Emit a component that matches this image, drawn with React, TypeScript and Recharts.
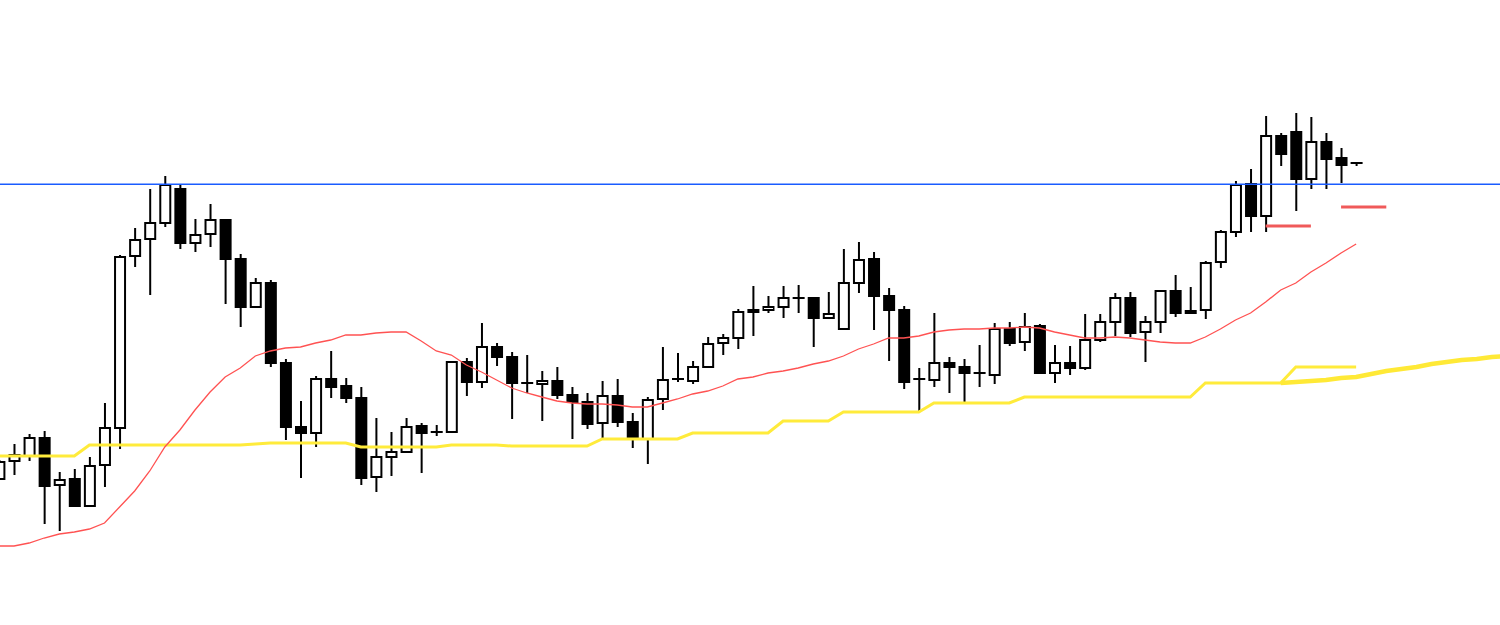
import React from 'react'
import { ComposedChart, Bar, Line, XAxis, YAxis, ReferenceLine } from 'recharts'

// candle prices (arbitrary price units)
const opens = [
  146, 164, 169, 187, 140, 146, 119, 160, 197, 369,
  386, 402, 436, 382, 391, 405, 366, 318, 342, 262,
  198, 192, 246, 239, 227, 148, 168, 173, 199, 193,
  193, 263, 243, 278, 268, 242, 241, 244, 230, 223,
  202, 229, 203, 186, 226, 246, 244, 258, 282, 287,
  315, 315, 318, 327, 327, 307, 296, 342, 366, 329,
  315, 246, 245, 262, 258, 252, 250, 296, 283, 299,
  252, 262, 257, 285, 303, 327, 293, 303, 334, 314,
  315, 363, 393, 441, 409, 489, 493, 446, 483, 467, 462,
]
const closes = [
  163, 170, 187, 139, 145, 119, 159, 197, 368, 385,
  402, 440, 382, 390, 405, 366, 318, 342, 262, 198,
  192, 246, 238, 227, 147, 168, 173, 198, 192, 193,
  263, 243, 278, 268, 242, 242, 244, 230, 223, 201,
  229, 203, 186, 225, 245, 246, 258, 281, 287, 313,
  313, 318, 327, 327, 307, 311, 342, 365, 329, 315,
  243, 246, 262, 258, 252, 252, 296, 282, 298, 252,
  262, 257, 285, 303, 327, 292, 303, 334, 312, 312,
  362, 393, 440, 409, 489, 471, 446, 483, 466, 460, 462,
]
const highs = [
  165, 181, 191, 194, 153, 156, 168, 222, 370, 397,
  436, 449, 440, 406, 421, 405, 371, 347, 345, 266,
  224, 249, 274, 247, 238, 207, 193, 207, 202, 200,
  264, 267, 302, 282, 273, 270, 254, 258, 238, 232,
  244, 246, 212, 228, 278, 272, 264, 288, 291, 316,
  339, 329, 339, 340, 328, 333, 376, 383, 373, 337,
  319, 257, 312, 268, 266, 280, 302, 303, 312, 301,
  280, 279, 311, 311, 332, 333, 309, 334, 350, 338,
  364, 395, 444, 456, 509, 492, 512, 508, 492, 477, 462,
]
const lows = [
  145, 150, 164, 101, 94, 119, 119, 138, 176, 358,
  330, 398, 376, 373, 378, 321, 298, 318, 258, 185,
  147, 178, 227, 222, 140, 133, 149, 172, 152, 189,
  193, 229, 237, 259, 206, 232, 204, 226, 186, 196,
  186, 198, 177, 161, 215, 243, 241, 258, 270, 276,
  289, 312, 307, 312, 278, 307, 295, 332, 295, 264,
  236, 214, 238, 232, 221, 238, 241, 279, 274, 251,
  242, 250, 255, 283, 289, 288, 263, 292, 308, 312,
  306, 357, 388, 393, 393, 459, 414, 436, 436, 442, 459,
]

// thin red moving average
const maLine = [
  79, 79, 82, 87, 91, 93, 96, 102, 118, 134,
  154, 178, 195, 215, 233, 248, 257, 269, 274, 277,
  278, 282, 285, 290, 290, 292, 293, 293, 284, 274,
  270, 260, 253, 245, 237, 232, 228, 224, 222, 221,
  221, 220, 218, 218, 222, 226, 231, 234, 239, 246,
  248, 252, 254, 257, 261, 264, 269, 276, 281, 287,
  287, 289, 293, 295, 296, 296, 297, 297, 298, 297,
  293, 290, 287, 287, 288, 287, 285, 283, 282, 282,
  288, 296, 305, 312, 323, 335, 342, 353, 362, 372, 381,
]

// yellow stepped line
const stepLine = [
  169, 169, 169, 169, 169, 169, 180, 180, 180, 180,
  180, 180, 180, 180, 180, 180, 180, 181, 182, 182,
  182, 182, 182, 182, 178, 178, 178, 178, 178, 178,
  180, 180, 180, 180, 179, 179, 179, 179, 179, 179,
  186, 186, 186, 186, 186, 186, 192, 192, 192, 192,
  192, 192, 204, 204, 204, 204, 213, 213, 213, 213,
  213, 213, 222, 222, 222, 222, 222, 222, 228, 228,
  228, 228, 228, 228, 228, 228, 228, 228, 228, 228,
  242, 242, 242, 242, 242, 242, 258, 258, 258, 258, 258,
]

// thick yellow curve projected forward, starts at bar 85
const curveStart = 85
const curveLine = [242, 243, 244, 245, 247, 248, 251, 254, 256, 258, 261, 263, 265, 266, 268, 269]

// horizontal levels
const resistance = 440.7
const dashA = { from: 84, to: 87, value: 399 }
const dashB = { from: 89, to: 92, value: 418 }

const TOTAL = 101

const rows = Array.from({ length: TOTAL }, (_, i) => {
  const has = i < opens.length
  const ci = i - curveStart
  return {
    i,
    range: has ? [lows[i], highs[i]] : null,
    open: has ? opens[i] : null,
    close: has ? closes[i] : null,
    high: has ? highs[i] : null,
    low: has ? lows[i] : null,
    ma: has ? maLine[i] : null,
    step: has ? stepLine[i] : null,
    curve: ci >= 0 && ci < curveLine.length ? curveLine[ci] : null,
    dashA: i >= dashA.from && i <= dashA.to ? dashA.value : null,
    dashB: i >= dashB.from && i <= dashB.to ? dashB.value : null,
  }
})

const Candle = (props: any) => {
  const { x, y, width, height, payload } = props
  if (payload == null || payload.high == null) return null
  const cx = x + width / 2
  const top = Math.min(y, y + height)
  const span = Math.abs(height)
  const range = payload.high - payload.low
  // map a price inside the bar's [low, high] onto the bar's pixel extent
  const toPx = (v: number) => (range === 0 ? top : top + ((payload.high - v) / range) * span)
  const bodyTop = toPx(Math.max(payload.open, payload.close))
  const bodyBot = toPx(Math.min(payload.open, payload.close))
  const up = payload.close >= payload.open
  return (
    <g>
      <line x1={cx} x2={cx} y1={top} y2={top + span} stroke="#000" strokeWidth={2} />
      <rect
        x={cx - 5}
        y={bodyTop}
        width={10}
        height={Math.max(bodyBot - bodyTop, 0.01)}
        fill={up ? '#fff' : '#000'}
        stroke="#000"
        strokeWidth={2}
      />
    </g>
  )
}

export default function App() {
  return (
    <div style={{ position: 'absolute', left: 0, top: 0, width: 1500, height: 625, background: '#fff' }}>
      <ComposedChart width={1500} height={625} data={rows} margin={{ top: 0, right: 0, bottom: 0, left: 0 }}>
        <XAxis dataKey="i" type="number" domain={[0.07, 99.54]} allowDataOverflow hide />
        <YAxis type="number" domain={[0, 625]} allowDataOverflow hide />
        <Line dataKey="step" stroke="#ffeb3b" strokeWidth={3} dot={false} activeDot={false} isAnimationActive={false} />
        <Line dataKey="curve" stroke="#ffe936" strokeWidth={4.5} dot={false} activeDot={false} isAnimationActive={false} />
        <Line dataKey="ma" stroke="#ff5252" strokeWidth={1.3} dot={false} activeDot={false} isAnimationActive={false} />
        <ReferenceLine y={resistance} stroke="#1a5cff" strokeWidth={1.5} />
        <Line dataKey="dashA" stroke="#f05a5a" strokeWidth={3} dot={false} activeDot={false} isAnimationActive={false} />
        <Line dataKey="dashB" stroke="#f05a5a" strokeWidth={3} dot={false} activeDot={false} isAnimationActive={false} />
        <Bar dataKey="range" barSize={10} shape={Candle} isAnimationActive={false} />
      </ComposedChart>
    </div>
  )
}
